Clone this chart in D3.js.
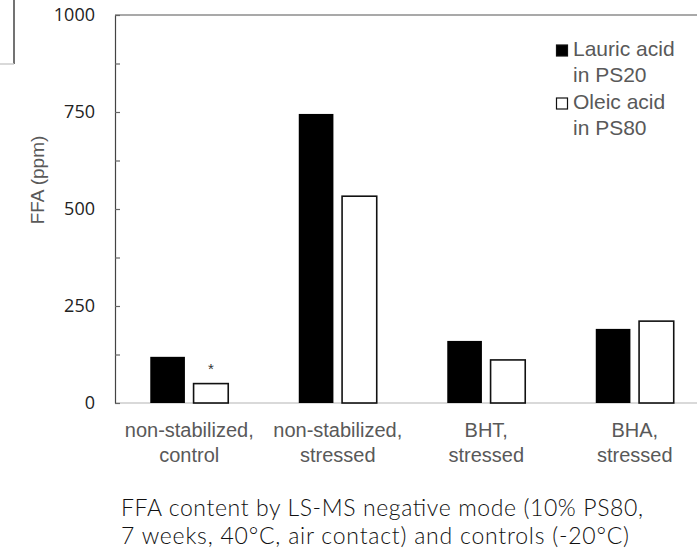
<!DOCTYPE html>
<html>
<head>
<meta charset="utf-8">
<script src="https://d3js.org/d3.v7.min.js"></script>
<style>
body { margin: 0; background: #fff; }
</style>
</head>
<body>
<script>
const categories = [["non-stabilized,", "control"], ["non-stabilized,", "stressed"], ["BHT,", "stressed"], ["BHA,", "stressed"]];
const series = ["Lauric acid in PS20", "Oleic acid in PS80"];
const lauric = [119, 745, 160, 191];
const oleic = [50, 533, 111, 211];
const yTicks = [0, 125, 250, 375, 500, 625, 750, 875, 1000];
const caption = ["FFA content by LS-MS negative mode (10% PS80,", "7 weeks, 40°C, air contact) and controls (-20°C)"];

const width = 697, height = 550;
const svg = d3.select("body").append("svg")
  .attr("width", width)
  .attr("height", height);

// little leftover box in the top-left corner
svg.append("line").attr("x1", 14).attr("x2", 14).attr("y1", 0).attr("y2", 64)
  .attr("stroke", "#444").attr("stroke-width", 1.5);
svg.append("line").attr("x1", 0).attr("x2", 14).attr("y1", 64).attr("y2", 64)
  .attr("stroke", "#ccc").attr("stroke-width", 1.5);

var x = d3.scaleBand()
  .domain(d3.range(categories.length))
  .range([115, 709])
  .paddingInner(0.475)
  .paddingOuter(0.2375);

var xs = d3.scaleBand()
  .domain(series)
  .range([0, x.bandwidth()])
  .paddingInner(0.2);

var y = d3.scaleLinear()
  .domain([0, 1000])
  .range([403, 15]);

// top border
svg.append("line")
  .attr("x1", 115).attr("x2", width)
  .attr("y1", y(1000)).attr("y2", y(1000))
  .attr("stroke", "#555").attr("stroke-width", 1.2);

// baseline
svg.append("line")
  .attr("x1", 115).attr("x2", width)
  .attr("y1", y(0)).attr("y2", y(0))
  .attr("stroke", "#d9d9d9").attr("stroke-width", 2);

var y_axis = d3.axisLeft(y)
  .tickValues(yTicks)
  .tickSizeInner(-5)
  .tickSizeOuter(0)
  .tickPadding(20)
  .tickFormat(d => d % 250 === 0 ? d : "");

var ga = svg.append("g")
  .attr("transform", "translate(115,0)")
  .call(y_axis);
ga.select(".domain").attr("stroke", "#444").attr("stroke-width", 1.2);
ga.selectAll(".tick line").attr("stroke", "#666").attr("stroke-width", 1.2);
ga.selectAll(".tick text")
  .attr("font-family", "'Open Sans', sans-serif")
  .attr("font-size", 18)
  .attr("fill", "#222");

// y title
svg.append("text")
  .attr("transform", "translate(44,180) rotate(-90)")
  .attr("text-anchor", "middle")
  .attr("font-family", "'Liberation Sans', Arial, sans-serif")
  .attr("font-size", 19)
  .attr("fill", "#595959")
  .text("FFA (ppm)");

// bars
var g = svg.selectAll("g.grp")
  .data(categories.map((c, i) => i))
  .enter()
  .append("g")
  .attr("class", "grp")
  .attr("transform", i => "translate(" + x(i) + ",0)");

g.append("rect")
  .attr("x", xs(series[0]))
  .attr("y", i => y(lauric[i]))
  .attr("width", xs.bandwidth())
  .attr("height", i => y(0) - y(lauric[i]))
  .attr("fill", "#000");

g.append("rect")
  .attr("x", xs(series[1]))
  .attr("y", i => y(oleic[i]))
  .attr("width", xs.bandwidth())
  .attr("height", i => y(0) - y(oleic[i]))
  .attr("fill", "#fff")
  .attr("stroke", "#111")
  .attr("stroke-width", 1.6);

// asterisk on the control oleic bar
svg.append("text")
  .attr("x", x(0) + xs(series[1]) + xs.bandwidth() / 2)
  .attr("y", y(oleic[0]) - 10)
  .attr("text-anchor", "middle")
  .attr("font-family", "'Liberation Sans', Arial, sans-serif")
  .attr("font-size", 15)
  .attr("fill", "#333")
  .text("*");

// category labels
var lab = svg.selectAll("text.cat")
  .data(categories)
  .enter()
  .append("text")
  .attr("class", "cat")
  .attr("x", (d, i) => x(i) + x.bandwidth() / 2)
  .attr("y", 437)
  .attr("text-anchor", "middle")
  .attr("font-family", "'Liberation Sans', Arial, sans-serif")
  .attr("font-size", 20)
  .attr("fill", "#595959");
lab.selectAll("tspan")
  .data(d => d)
  .enter()
  .append("tspan")
  .attr("x", function () { return this.parentNode.getAttribute("x"); })
  .attr("dy", (d, j) => j === 0 ? 0 : 25)
  .text(d => d);

// legend
var legend = [
  { name: ["Lauric acid", "in PS20"], fill: "#000", y: 56 },
  { name: ["Oleic acid", "in PS80"], fill: "#fff", y: 109 }
];
legend.forEach(function (l) {
  svg.append("rect")
    .attr("x", 556.5).attr("y", l.y - 11)
    .attr("width", 11).attr("height", 11)
    .attr("fill", l.fill)
    .attr("stroke", "#111").attr("stroke-width", 1.2);
  svg.append("text")
    .attr("x", 573).attr("y", l.y)
    .attr("font-family", "'Liberation Sans', Arial, sans-serif")
    .attr("font-size", 21)
    .attr("fill", "#595959")
    .selectAll("tspan")
    .data(l.name)
    .enter()
    .append("tspan")
    .attr("x", 573)
    .attr("dy", (d, j) => j === 0 ? 0 : 25.5)
    .text(d => d);
});

// caption (two separate lines)
var capLen = [522, 508];
svg.selectAll("text.cap")
  .data(caption)
  .enter()
  .append("text")
  .attr("class", "cap")
  .attr("x", 121)
  .attr("y", (d, j) => 516 + j * 28)
  .attr("font-family", "Lato, sans-serif")
  .attr("font-weight", 300)
  .attr("font-size", 23)
  .attr("fill", "#111")
  .attr("textLength", (d, j) => capLen[j])
  .attr("lengthAdjust", "spacing")
  .text(d => d);
</script>
</body>
</html>
